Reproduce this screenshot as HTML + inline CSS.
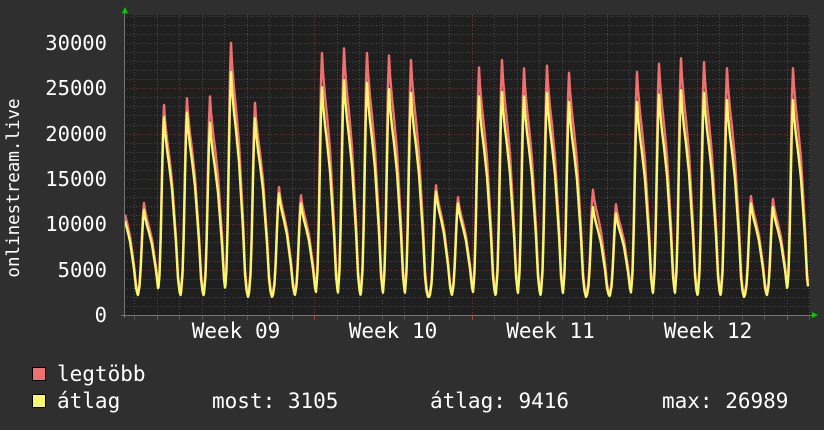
<!DOCTYPE html>
<html><head><meta charset="utf-8"><style>
html,body{margin:0;padding:0;background:#2f2f2f;}
svg{display:block}
text{font-family:"DejaVu Sans Mono","Liberation Mono",monospace;fill:#ffffff;}
</style></head><body>
<svg id="s" width="824" height="430" xmlns="http://www.w3.org/2000/svg">
<rect width="824" height="430" fill="#2f2f2f"/>
<rect x="124" y="15" width="686" height="300" fill="#1f1f1f"/>
<g id="grid"></g>
<path id="red" fill="none" stroke="#f07070" stroke-width="2.4" stroke-linejoin="round"/>
<path id="yel" fill="none" stroke="#f8f870" stroke-width="2.4" stroke-linejoin="round"/>
<line x1="121" y1="315.5" x2="814" y2="315.5" stroke="#777" stroke-width="1"/>
<line x1="124.5" y1="12" x2="124.5" y2="318" stroke="#777" stroke-width="1"/>
<polygon points="122,13 128,13 125,7" fill="#00cc00"/>
<polygon points="812,312 812,318 818,315" fill="#00cc00"/>
<g font-size="20.5" text-anchor="end">
<text x="107" y="50">30000</text>
<text x="107" y="95">25000</text>
<text x="107" y="141">20000</text>
<text x="107" y="186">15000</text>
<text x="107" y="231">10000</text>
<text x="107" y="277">5000</text>
<text x="107" y="322">0</text>
</g>
<text transform="translate(19,188) rotate(-90)" font-size="17.5" text-anchor="middle">onlinestream.live</text>
<g font-size="21" text-anchor="middle">
<text x="236" y="338">Week 09</text>
<text x="393" y="338">Week 10</text>
<text x="550.5" y="338">Week 11</text>
<text x="708" y="338">Week 12</text>
</g>
<rect x="32.5" y="367.5" width="13" height="13" fill="#f07070" stroke="#000"/>
<rect x="32.5" y="394.5" width="13" height="13" fill="#f8f870" stroke="#000"/>
<g font-size="21">
<text x="57" y="381">legtöbb</text>
<text x="57" y="408">átlag</text>
<text x="212" y="408">most: 3105</text>
<text x="430" y="408">átlag: 9416</text>
<text x="662" y="408">max: 26989</text>
</g>
</svg>
<script>
var g=document.getElementById('grid'),h='';
function Y(v){return 315-v*0.00907;}
for(var v=1000;v<=33000;v+=1000){var y=Math.round(Y(v))+0.5;var maj=v%5000==0;
h+='<line x1="124" x2="810" y1="'+y+'" y2="'+y+'" stroke="'+(maj?'#7a3434':'#4a4a4a')+'" stroke-dasharray="1,2"/>';}
for(var k=-1;k<32;k++){var x=134.3+22.5*k;if(x<125||x>810)continue;var maj=Math.abs(((x-156.3)/157.5)-Math.round((x-156.3)/157.5))<0.01;
x=Math.round(x)+0.5;
h+='<line y1="15" y2="315" x1="'+x+'" x2="'+x+'" stroke="'+(maj?'#7a3434':'#4a4a4a')+'" stroke-dasharray="1,2"/>';
h+='<line y1="316" y2="320" x1="'+x+'" x2="'+x+'" stroke="'+(maj?'#b04040':'#555')+'"/>';}
g.innerHTML=h;
var P=[[122,13000,12200],[144,12350,11600],[164,23150,21800],[187,23900,22300],[210,24100,21200],[231,30000,26800],[255,23400,21700],[279,14100,13400],[301,13200,12300],[322,28900,25100],[344,29400,25900],[367,28900,25600],[389,28600,24900],[411,28100,24500],[436,14300,13600],[458,13000,12300],[479,27300,24100],[502,28100,24600],[524,27200,24100],[547,27500,24500],[569,26700,23500],[593,13800,11900],[616,12200,11200],[637,26800,23500],[659,27700,24300],[681,28300,24800],[704,27900,24500],[727,27200,23700],[751,13100,12300],[773,12800,11900],[793,27200,23700],[817,27000,23500]];
var FALL=[[0,1],[1,0.92],[3,0.82],[5,0.74],[8,0.6],[10,0.45],[12,0.3],[14,0.1],[15.5,0.03],[17,0]];
var RISE=[[0,1],[1,0.88],[2,0.65],[3.3,0.32],[4.5,0.12],[6,0.02],[7,0]];
function tab(T,d){if(d<=T[0][0])return T[0][1];for(var i=1;i<T.length;i++){if(d<=T[i][0]){var a=T[i-1],b=T[i];return a[1]+(b[1]-a[1])*(d-a[0])/(b[0]-a[0]);}}return 0;}
function val(x,idx){
 var VV=idx==1?2300:2000;
 var i;for(i=0;i<P.length;i++){if(P[i][0]>x)break;}
 var pp=P[i-1],np=P[i];
 var a=(pp[idx]-VV)*tab(FALL,x-pp[0]);
 var b=np?(np[idx]-VV)*tab(RISE,np[0]-x):0;
 return VV+Math.max(a,b);
}
function path(idx){var d='';for(var x=125;x<=808;x+=0.5){var y=Y(val(x,idx));if(y<15)y=15;d+=(x==125?'M':'L')+x+','+y.toFixed(1);}return d;}
document.getElementById('red').setAttribute('d',path(1));
document.getElementById('yel').setAttribute('d',path(2));
</script>
</body></html>
